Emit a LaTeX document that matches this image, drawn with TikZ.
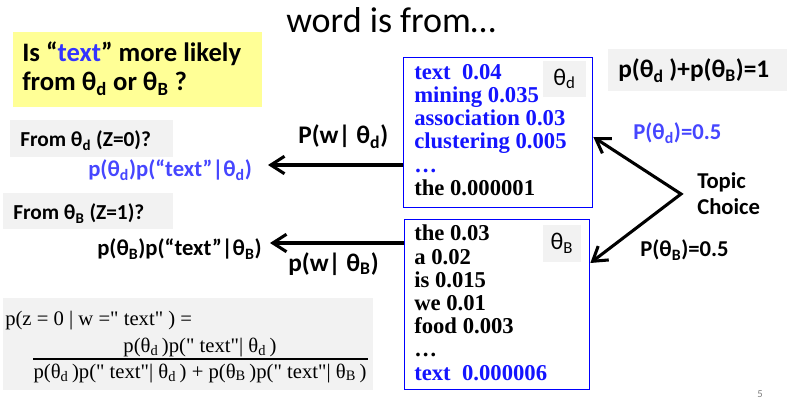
\documentclass[tikz,border=0pt]{standalone}
\usepackage{fontspec}
\setmainfont{Carlito}
\newfontfamily\timesfont{Liberation Serif}[Ligatures=TeXOff]
\usetikzlibrary{arrows.meta,positioning}

\definecolor{listblue}{RGB}{20,20,255}
\definecolor{probblue}{RGB}{70,70,255}
\definecolor{txtblue}{RGB}{51,51,255}
\definecolor{noteyellow}{RGB}{255,255,150}
\definecolor{notegray}{RGB}{242,242,242}
\newcommand{\thsub}[1]{θ\textsubscript{#1}}

\begin{document}
\begin{tikzpicture}[x=0.75pt,y=-0.75pt,
  bigarrow/.style={line width=2.3pt,-{Straight Barb[length=3.6mm,width=4.6mm]}},
  wordlist/.style={draw=blue,line width=1pt,anchor=north west},
  listtext/.style={anchor=north west,align=left,inner sep=0pt,
    font=\timesfont\bfseries\fontsize{17}{17.4}\selectfont},
  thlabel/.style={fill=notegray,inner sep=0pt,font=\fontsize{18}{20}\selectfont},
  boldtext/.style={anchor=base west,inner sep=0pt,font=\bfseries\fontsize{17}{20}\selectfont},
  formula/.style={inner sep=0pt,font=\timesfont\fontsize{15.5}{18}\selectfont}]
  \useasboundingbox (0,0) rectangle (787,402);
  % title
  \node[anchor=base west,inner sep=0pt,font=\fontsize{27}{30}\selectfont] (title) at (286,33) {word is from…};
  % question
  \fill[noteyellow] (13,32) rectangle (262,107);
  \node[boldtext,font=\bfseries\fontsize{20}{24}\selectfont] (q1) at (22,62) {Is “\textcolor{txtblue}{text}” more likely};
  \node[boldtext,font=\bfseries\fontsize{20}{24}\selectfont] (q2) at (22,91) {from \thsub{d} or \thsub{B} ?};
  % sum of priors
  \fill[notegray] (608,49) rectangle (787,91);
  \node[boldtext,font=\bfseries\fontsize{19}{22}\selectfont] (psum) at (618,78) {p(\thsub{d} )+p(\thsub{B})=1};
  % theta_d
  \node[wordlist,minimum width=141.75pt,minimum height=112.5pt] (thd) at (403,57) {};
  \node[thlabel,minimum width=32.25pt,minimum height=27pt] (thdlab) at (564.5,79) {\thsub{d}};
  \node[listtext,text=listblue] (thdwords) at (414,64) {text~~0.04\\mining 0.035\\association 0.03\\clustering 0.005\\…\\\textcolor{black}{the 0.000001}};
  % theta_B
  \node[wordlist,minimum width=138.75pt,minimum height=127.5pt] (thB) at (404,219) {};
  \node[thlabel,minimum width=28.5pt,minimum height=27.75pt] (thBlab) at (562,243.5) {\thsub{B}};
  \node[listtext] (thBwords) at (414,225) {the 0.03\\a 0.02\\is 0.015\\we 0.01\\food 0.003\\…\\\textcolor{listblue}{text~~0.000006}};
  % topic choice
  \node[boldtext] (topic) at (697,189) {Topic};
  \node[boldtext] (choice) at (697,215) {Choice};
  \node[boldtext,text=probblue] (pd) at (633,140) {P(\thsub{d})=0.5};
  \node[boldtext] (pB) at (640,257) {P(\thsub{B})=0.5};
  \coordinate (fork) at (681,194);
  \draw[line width=2.3pt,line join=miter,{Straight Barb[length=3.6mm,width=4.6mm]}-{Straight Barb[length=3.6mm,width=4.6mm]}]
    (thd.east |- 0,137) -- (fork) -- (thB.east |- 0,263);
  % left side
  \fill[notegray] (10,120) rectangle (173,157);
  \node[boldtext,font=\bfseries\fontsize{16}{19}\selectfont] (fromd) at (20,147) {From \thsub{d} (Z=0)?};
  \node[boldtext,text=probblue] (scored) at (88,177) {p(\thsub{d})p(“text”|\thsub{d})};
  \fill[notegray] (3,193) rectangle (173,229);
  \node[boldtext,font=\bfseries\fontsize{16}{19}\selectfont] (fromB) at (13,220) {From \thsub{B} (Z=1)?};
  \node[boldtext] (scoreB) at (97,256) {p(\thsub{B})p(“text”|\thsub{B})};
  \coordinate (dtip) at (268,165);
  \coordinate (Btip) at (270,243);
  \draw[bigarrow] (thd.west |- dtip) -- (dtip);
  \draw[bigarrow] (thB.west |- Btip) -- (Btip);
  \node[boldtext,font=\bfseries\fontsize{19}{22}\selectfont] (pwd) at (298,144) {P(w|~\thsub{d})};
  \node[boldtext,font=\bfseries\fontsize{19}{22}\selectfont] (pwB) at (288,271) {p(w|~\thsub{B})};
  % posterior
  \fill[notegray] (3,298) rectangle (373,390);
  \node[formula,anchor=base west] (fline) at (5,325) {p(z = 0 | w =" text" ) =};
  \node[formula,anchor=base] (fnum) at (200,352) {p(\thsub{d}\,)p(" text"| \thsub{d}\,)};
  \draw[line width=0.9pt] (33,359) -- (368,359);
  \node[formula,anchor=base] (fden) at (200,378) {p(\thsub{d}\,)p(" text"| \thsub{d}\,) + p(\thsub{B}\,)p(" text"| \thsub{B}\,)};
  \node[font=\fontsize{8}{9}\selectfont,text=gray] (pageno) at (760,394) {5};
\end{tikzpicture}
\end{document}
